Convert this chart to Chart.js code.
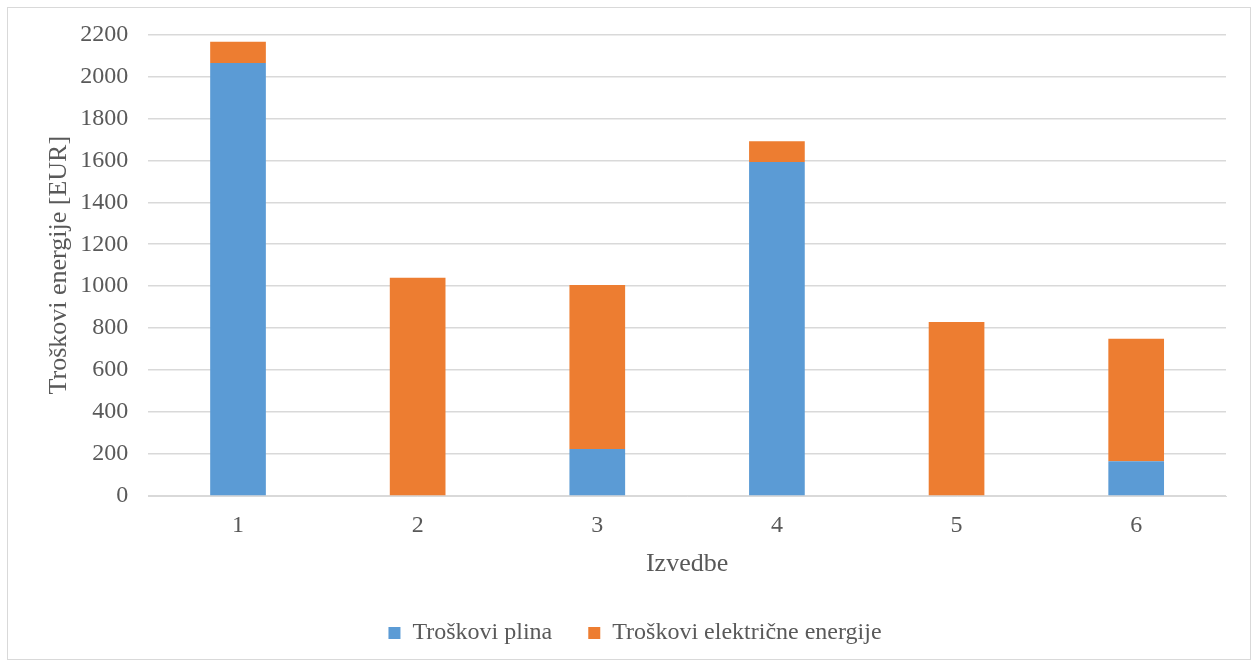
<!DOCTYPE html>
<html>
<head>
<meta charset="utf-8">
<script src="https://cdn.jsdelivr.net/npm/chart.js@4/dist/chart.umd.min.js"></script>
<style>
html,body{margin:0;padding:0;background:#fff;}
#wrap{position:relative;width:1255px;height:664px;}
</style>
</head>
<body>
<div id="wrap"><canvas id="c" width="1255" height="664"></canvas></div>
<script>
const categories = ["1", "2", "3", "4", "5", "6"];
const plinValues = [2064, 0, 224, 1592, 0, 166];
const strujaValues = [101, 1040, 782, 99, 829, 583];
const seriesNames = ["Troškovi plina", "Troškovi električne energije"];
const yTicks = [0, 200, 400, 600, 800, 1000, 1200, 1400, 1600, 1800, 2000, 2200];

const font = "'Liberation Serif', 'Times New Roman', serif";

const borderPlugin = {
  id: 'outerBorder',
  beforeDraw(chart) {
    const ctx = chart.ctx;
    ctx.save();
    ctx.fillStyle = '#fff';
    ctx.fillRect(0, 0, chart.width, chart.height);
    ctx.strokeStyle = '#d9d9d9';
    ctx.lineWidth = 1;
    ctx.strokeRect(7.5, 7.5, 1243, 652);
    ctx.restore();
  }
};

new Chart(document.getElementById('c'), {
  type: 'bar',
  data: {
    labels: categories,
    datasets: [
      { label: seriesNames[0], data: plinValues, backgroundColor: '#5b9bd5', barPercentage: 0.31, categoryPercentage: 1.0 },
      { label: seriesNames[1], data: strujaValues, backgroundColor: '#ed7d31', barPercentage: 0.31, categoryPercentage: 1.0 }
    ]
  },
  options: {
    responsive: false,
    animation: false,
    devicePixelRatio: 1,
    layout: { padding: { left: 44, right: 29, top: 29, bottom: 9 } },
    plugins: {
      legend: {
        position: 'bottom',
        labels: {
          font: { family: font, size: 24 },
          color: '#595959',
          boxWidth: 12, boxHeight: 12,
          padding: 36
        }
      },
      tooltip: { enabled: false }
    },
    scales: {
      x: {
        stacked: true,
        grid: { display: false },
        border: { color: '#d9d9d9' },
        ticks: { font: { family: font, size: 24 }, color: '#595959', padding: 7 },
        title: { display: true, text: 'Izvedbe', font: { family: font, size: 26 }, color: '#595959', padding: { top: 2, bottom: 5 } }
      },
      y: {
        stacked: true,
        min: 0, max: 2200,
        afterBuildTicks(axis) { axis.ticks = yTicks.map(v => ({ value: v })); },
        grid: { color: '#d9d9d9', lineWidth: 1.5, drawTicks: false },
        border: { display: false },
        ticks: { font: { family: font, size: 24 }, color: '#595959', padding: 20, callback: v => String(v) },
        title: { display: true, text: 'Troškovi energije [EUR]', font: { family: font, size: 26 }, color: '#595959', padding: { top: 0, bottom: -15 } }
      }
    }
  },
  plugins: [borderPlugin]
});
</script>
</body>
</html>
